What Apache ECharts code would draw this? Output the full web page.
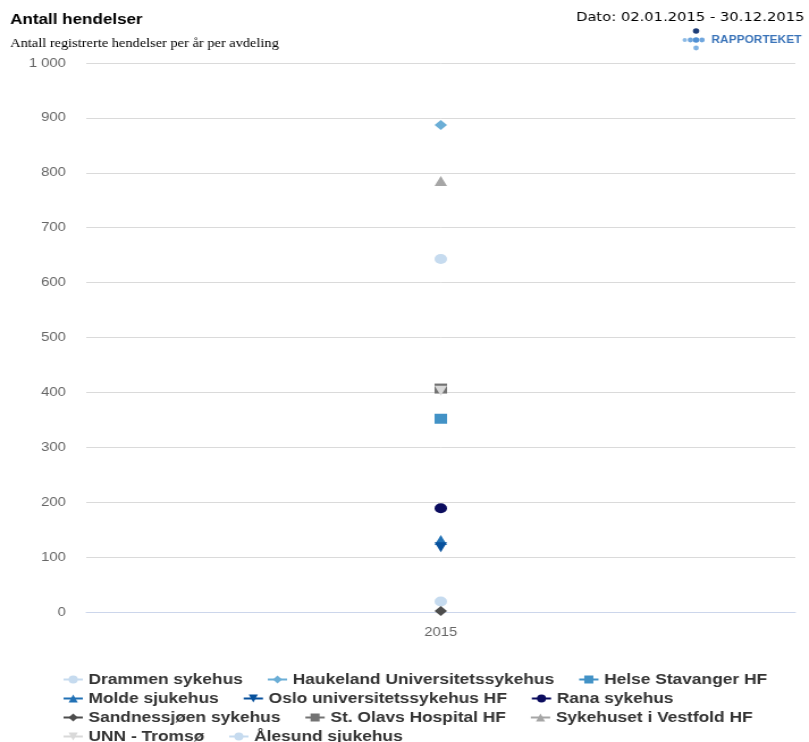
<!DOCTYPE html>
<html>
<head>
<meta charset="utf-8">
<script src="https://cdn.jsdelivr.net/npm/echarts@6/dist/echarts.min.js"></script>
<style>
  html, body { margin: 0; padding: 0; background: #fff; overflow: hidden; }
  /* The chart is laid out at a narrower width and widened to the full page */
  #chart { width: 713px; height: 742px; transform: scaleX(1.1346); transform-origin: 0 0; }
</style>
</head>
<body>
<div id="chart"></div>
<script>
// Reporting period and categories
const years = ['2015'];

// Units (series names) in legend order
const units = [
  'Drammen sykehus',
  'Haukeland Universitetssykehus',
  'Helse Stavanger HF',
  'Molde sjukehus',
  'Oslo universitetssykehus HF',
  'Rana sykehus',
  'Sandnessjøen sykehus',
  'St. Olavs Hospital HF',
  'Sykehuset i Vestfold HF',
  'UNN - Tromsø',
  'Ålesund sjukehus'
];

// Registered events per year, one value per unit (same order as units)
const events2015 = [19, 887, 352, 131, 118, 189, 2, 407, 785, 403, 643];

// Y axis ticks
const yTicks = [0, 100, 200, 300, 400, 500, 600, 700, 800, 900, 1000];

// Marker style per unit
const colors = ['#c6dbef', '#6baed6', '#4292c6', '#2171b5', '#08519c', '#0b0c5e',
                '#4d4d4d', '#737373', '#a6a6a6', '#d9d9d9', '#c6dbef'];
const symbols = ['circle', 'diamond', 'rect', 'triangle', 'path://M0,0 L10,0 L5,10 Z', 'circle',
                 'diamond', 'rect', 'triangle', 'path://M0,0 L10,0 L5,10 Z', 'circle'];

const legendRows = [
  units.slice(0, 3),
  units.slice(3, 6),
  units.slice(6, 9),
  units.slice(9, 11)
];
const legendTops = [672, 691, 710, 729];

const chart = echarts.init(document.getElementById('chart'), null, { renderer: 'canvas' });

const series = units.map((name, i) => ({
  name: name,
  type: 'line',
  data: years.map(() => events2015[i]),
  symbol: symbols[i],
  symbolSize: [11, 10],
  showSymbol: true,
  itemStyle: { color: colors[i] },
  lineStyle: { color: colors[i], width: 2 },
  emphasis: { disabled: true },
  animation: false
}));

const legends = legendRows.map((row, r) => ({
  data: row,
  left: 55,
  top: legendTops[r],
  orient: 'horizontal',
  itemWidth: 17,
  itemHeight: 10,
  itemGap: 21,
  padding: 0,
  selectedMode: false,
  textStyle: {
    fontFamily: 'Liberation Sans, Arial, sans-serif',
    fontWeight: 'bold',
    fontSize: 15.3,
    color: '#333'
  }
}));

const option = {
  backgroundColor: '#fff',
  animation: false,
  grid: { left: 76, right: 12, top: 63, bottom: 130, containLabel: false },
  legend: legends,
  xAxis: {
    type: 'category',
    data: years,
    boundaryGap: true,
    axisLine: { show: true, lineStyle: { color: '#ccd6eb', width: 1 } },
    axisTick: { show: false },
    axisLabel: {
      color: '#666',
      fontFamily: 'Liberation Sans, Arial, sans-serif',
      fontSize: 13,
      margin: 14
    },
    splitLine: { show: false }
  },
  yAxis: {
    type: 'value',
    min: yTicks[0],
    max: yTicks[yTicks.length - 1],
    interval: yTicks[1] - yTicks[0],
    axisLine: { show: false },
    axisTick: { show: false },
    axisLabel: {
      color: '#666',
      fontFamily: 'Liberation Sans, Arial, sans-serif',
      fontSize: 13,
      margin: 18,
      formatter: v => String(v).replace(/\B(?=(\d{3})+(?!\d))/g, ' ')
    },
    splitLine: { lineStyle: { color: '#dadada', width: 1 } }
  },
  series: series,
  graphic: [
    {
      type: 'text', left: 9, top: 12,
      style: { text: 'Antall hendelser', fill: '#000',
               font: 'bold 15px "Liberation Sans", Arial, sans-serif' }
    },
    {
      type: 'text', left: 9, top: 37,
      style: { text: 'Antall registrerte hendelser per år per avdeling', fill: '#000',
               font: '12.7px "Liberation Serif", "Times New Roman", serif' }
    },
    {
      type: 'text', right: 4, top: 11,
      style: { text: 'Dato: 02.01.2015 - 30.12.2015', fill: '#000',
               font: '13px "DejaVu Sans", sans-serif' }
    },
    // Rapporteket logo
    { type: 'circle', shape: { cx: 613.5, cy: 31, r: 2.8 }, style: { fill: '#1d3d78' } },
    { type: 'circle', shape: { cx: 603.5, cy: 40, r: 2 }, style: { fill: '#8dbbe6' } },
    { type: 'circle', shape: { cx: 608.5, cy: 40, r: 2.4 }, style: { fill: '#6fa6de' } },
    { type: 'circle', shape: { cx: 613.5, cy: 40, r: 2.8 }, style: { fill: '#4f8fd3' } },
    { type: 'circle', shape: { cx: 618.7, cy: 40, r: 2.4 }, style: { fill: '#6fa6de' } },
    { type: 'circle', shape: { cx: 613.5, cy: 48, r: 2.4 }, style: { fill: '#7fb2e3' } },
    {
      type: 'text', left: 627, top: 34.5,
      style: { text: 'RAPPORTEKET', fill: '#3b74b9',
               font: 'bold 10.5px "Liberation Sans", Arial, sans-serif' }
    }
  ]
};

chart.setOption(option);
</script>
</body>
</html>
